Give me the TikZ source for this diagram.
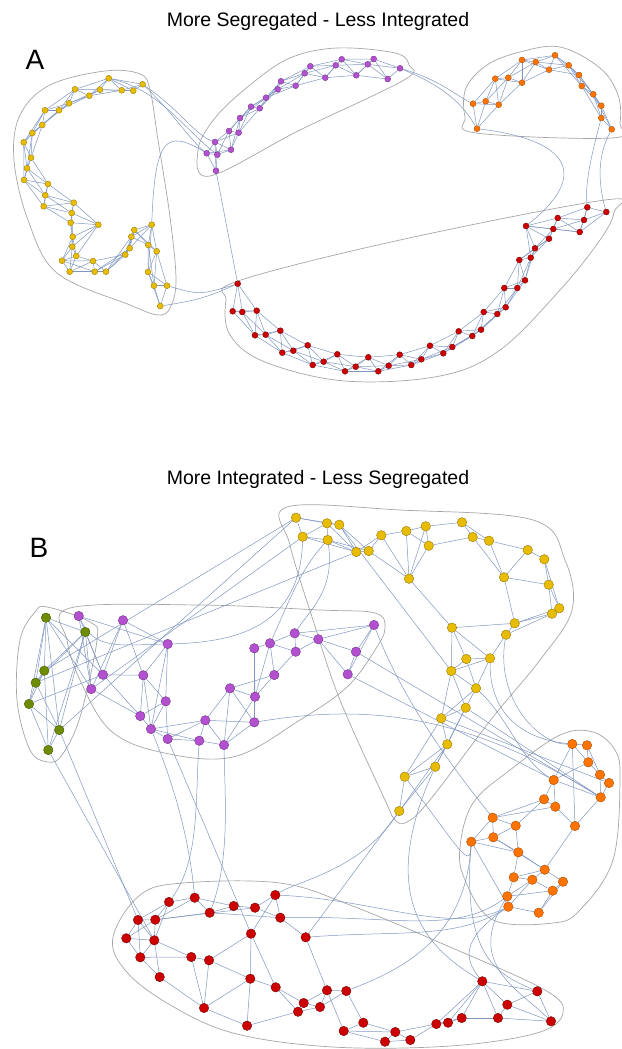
\documentclass[tikz,border=0pt]{standalone}
\usepackage{fontspec}
\setmainfont{Liberation Sans}
\usetikzlibrary{backgrounds}
\definecolor{ylw}{HTML}{E8BC00}
\definecolor{ylwd}{HTML}{8C7200}
\definecolor{prp}{HTML}{B350D0}
\definecolor{prpd}{HTML}{6A2C80}
\definecolor{orn}{HTML}{FF7300}
\definecolor{ornd}{HTML}{A04600}
\definecolor{rd}{HTML}{CC0000}
\definecolor{rdd}{HTML}{6E0000}
\definecolor{grn}{HTML}{6D8C00}
\definecolor{grnd}{HTML}{3C4E00}
\definecolor{edgec}{HTML}{8096C0}
\definecolor{hullc}{HTML}{A6A6A6}
\tikzstyle{nodeA} = [circle, inner sep=0pt, minimum size=6pt, line width=0.3pt]
\tikzstyle{nodeB} = [circle, inner sep=0pt, minimum size=9.5pt, line width=0.35pt]
\tikzstyle{yel} = [fill=ylw, draw=ylwd]
\tikzstyle{pur} = [fill=prp, draw=prpd]
\tikzstyle{ora} = [fill=orn, draw=ornd]
\tikzstyle{red} = [fill=rd, draw=rdd]
\tikzstyle{gre} = [fill=grn, draw=grnd]
\tikzstyle{edge} = [draw=edgec, line width=0.5pt]
\tikzstyle{hull} = [draw=hullc, line width=0.7pt]
\tikzstyle{title} = [font=\fontsize{19.5}{23}\selectfont]
\tikzstyle{panel} = [font=\fontsize{28}{32}\selectfont]
% links of a chain of nodes: each to the next three
\newcommand{\chainlinks}[2]{%
  \pgfmathtruncatemacro\nA{#2-1}
  \pgfmathtruncatemacro\nB{#2-2}
  \pgfmathtruncatemacro\nC{#2-3}
  \foreach \i in {1,...,\nA}{\pgfmathtruncatemacro\j{\i+1}\draw[edge] (#1\i) -- (#1\j);}
  \foreach \i in {1,...,\nB}{\pgfmathtruncatemacro\j{\i+2}\draw[edge] (#1\i) -- (#1\j);}
  \foreach \i in {1,...,\nC}{\pgfmathtruncatemacro\j{\i+3}\draw[edge] (#1\i) -- (#1\j);}
}

\begin{document}
\begin{tikzpicture}[x=1pt,y=-1pt]
\useasboundingbox (0,0) rectangle (621,1049);

\node (titleA) [title] at (318,21) {More Segregated - Less Integrated};
\node (labelA) [panel] at (35,60) {A};
\node (titleB) [title] at (318,479) {More Integrated - Less Segregated};
\node (labelB) [panel] at (39,548) {B};

% panel A
\foreach \x/\y [count=\i] in {142.7/84.3, 133.3/90.7, 121.7/90.3, 108.7/78.3, 100/89.7, 89.3/95.7, 75/89.3, 69/103.3, 59/110.3, 45/110.3, 42.3/125, 32.3/133, 23.7/142.3, 31/157.7, 27/168.3, 24/180, 48/184, 45.3/195.3, 43.7/206.3, 73.7/202.7, 71.7/213, 70.7/222.7, 98.3/224.7, 72.7/236.7, 72.3/246.7, 76.3/256, 62/260.7, 69.7/271.7, 93/261, 94.7/271.7, 106/271.7, 125.3/254.7, 129.7/248.3, 131.3/236.7, 134.3/230, 151.7/224.7, 148.3/245, 156.7/251.3, 148/272, 154/285.7, 167/285.7, 160.3/306}
  \node (ya\i) [nodeA, yel] at (\x,\y) {};
\foreach \x/\y [count=\i] in {216/170.7, 206.7/153.3, 217.3/154.7, 215/142, 231/149.7, 229/131, 238.7/132.7, 240/118, 251/106.7, 259.7/108.3, 266/97.7, 277.7/89.3, 281/81.3, 295.7/85.7, 304.7/73.3, 310.3/66.3, 325.3/77.7, 335.7/65.3, 341.7/59.3, 356.3/75.3, 367.7/64.3, 373.7/59, 387.7/79, 400/68.3}
  \node (pa\i) [nodeA, pur] at (\x,\y) {};
\foreach \x/\y [count=\i] in {477/128.7, 473/103.7, 485.7/101.3, 498.7/104.7, 495.3/78.7, 508.3/77.7, 522/82.7, 522/60, 535.7/62, 549/69.7, 555/55.3, 568.7/65.3, 579/75, 581.7/86, 593.3/94.3, 601.3/105.7, 601.3/118, 611.7/129.3}
  \node (oa\i) [nodeA, ora] at (\x,\y) {};
\foreach \x/\y [count=\i] in {606.3/212, 587.3/207.3, 584/220, 579.7/232, 557.7/218, 553.3/229, 526/226, 549/238.7, 535/248.3, 530.7/257.7, 519.3/260, 525/280.3, 517.3/288, 504.3/288, 505.7/307.3, 497.3/314, 483.7/312, 481/329.7, 472.3/336, 458.7/331.3, 452.3/347, 443.3/353.3, 430/345.7, 421.3/359.3, 411.3/365, 399.7/354.7, 388.7/365.7, 378.3/371.3, 368.3/357.3, 355.7/366.7, 345/371.3, 337.3/354.3, 323.7/361.7, 312.7/365, 307.7/345.3, 293.3/350.7, 282.3/352.7, 280.3/330.7, 265.7/334.7, 255/335.3, 256.7/310.7, 242.3/312, 232.7/311.3, 237.7/283.7}
  \node (ra\i) [nodeA, red] at (\x,\y) {};

% panel B
\foreach \x/\y [count=\i] in {46/617.7, 85.3/632, 44.3/670.7, 35.7/682.7, 29/704, 59.3/730, 48.3/750}
  \node (gb\i) [nodeB, gre] at (\x,\y) {};
\foreach \x/\y [count=\i] in {78.7/616, 123/620.3, 167.7/644, 103/674.7, 91.3/689, 143.3/675.3, 165.7/701.3, 140.3/716, 151/729, 167.7/739, 199.3/740.7, 205.3/720.3, 224/745, 230/688.3, 254.3/648.3, 270/643.3, 294.7/633.3, 295.7/651.7, 318.3/639.3, 274.3/675, 255/696.7, 254.3/722.3, 374/625, 356/651.7, 347.7/674.3}
  \node (pb\i) [nodeB, pur] at (\x,\y) {};
\foreach \x/\y [count=\i] in {296/517.7, 302.7/536.7, 327/523.3, 339.3/524.7, 327.7/540, 356.3/552, 368.7/551, 381.3/535.3, 406.3/531, 425.7/526.3, 428.7/545.7, 462/522.3, 472.7/537, 489/540.7, 409/578.7, 527.7/550, 544.3/559.3, 504/577.3, 548.7/584.7, 559.3/608.3, 552/613.7, 514.7/623.3, 506/634.7, 452/627.7, 466.3/659, 490/658.3, 451.3/671, 476/688.3, 465.7/707.7, 441.3/718.3, 447.3/744.3, 435.3/766.7, 404.7/776.7, 399.3/811}
  \node (yb\i) [nodeB, yel] at (\x,\y) {};
\foreach \x/\y [count=\i] in {572.3/744, 587/745.3, 588.3/762.3, 600/774.7, 609/783, 553.7/780, 600.7/797.3, 544/799.3, 555.3/806.7, 575/826, 492.7/817.7, 515.7/825.7, 471.3/841.7, 493.3/837.3, 518.3/852.3, 544.7/869.7, 513.7/877.3, 532.3/879.7, 563/881.7, 552.7/890.7, 507.3/896.3, 508.3/906.7, 538.7/912.7}
  \node (ob\i) [nodeB, ora] at (\x,\y) {};
\foreach \x/\y [count=\i] in {169/902, 194.7/897.7, 275.3/895, 138/920, 155.3/919.7, 209.7/912.7, 233.7/906, 255/907.7, 280.3/917.7, 126.3/938.3, 154.3/940.3, 251/933.7, 305.7/937.3, 140.3/957.3, 191.3/957, 209/960.3, 159.7/977, 250.3/978.7, 275.7/987.3, 327/990.3, 346.3/991, 303.7/1003, 320/1007, 298/1011.7, 204/1008, 247/1025.7, 363.3/1022.7, 343.7/1031, 395.3/1032, 385/1041.7, 410.3/1040, 436.3/1024, 448/1022.7, 461.7/1018, 498/1018, 482.3/981.3, 507.3/1004.7, 537.3/991.3, 551/1021.3}
  \node (rb\i) [nodeB, red] at (\x,\y) {};

\begin{scope}[on background layer]
% hulls
\draw[hull] plot[smooth cycle, tension=0.6] coordinates {(105,71) (140,74) (150,90) (158,140) (170,217) (176,280) (170,308) (158,315) (130,305) (57,273) (28,220) (14,160) (20,115) (50,85)};
\draw[hull] plot[smooth cycle, tension=0.6] coordinates {(198,150) (210,176) (300,130) (404,80) (409,65) (395,53) (337,48) (290,58) (250,85) (215,118)};
\draw[hull] plot[smooth cycle, tension=0.6] coordinates {(465,117) (476,133) (612,138) (620,123) (618,95) (600,68) (560,47) (520,52) (487,65) (466,88)};
\draw[hull] plot[smooth cycle, tension=0.6] coordinates {(226,300) (238,281) (400,240) (605,200) (614,212) (600,240) (560,290) (500,350) (440,376) (345,381) (265,362) (230,335)};
\draw[hull] plot[smooth cycle, tension=0.6] coordinates {(47,607) (90,622) (97,640) (80,717) (62,755) (48,762) (30,750) (17,700) (20,640) (35,612)};
\draw[hull] plot[smooth cycle, tension=0.6] coordinates {(70,608) (200,605) (320,610) (375,613) (385,628) (375,650) (347,687) (300,720) (233,757) (160,752) (110,730) (80,680) (67,640)};
\draw[hull] plot[smooth cycle, tension=0.6] coordinates {(287,507) (400,510) (533,520) (565,560) (572,610) (540,660) (493,717) (430,800) (407,822) (395,820) (385,800) (340,700) (313,620) (290,545)};
\draw[hull] plot[smooth cycle, tension=0.6] coordinates {(593,732) (615,750) (620,780) (613,860) (580,910) (553,923) (493,920) (465,880) (460,847) (473,803) (510,770) (560,735)};
\draw[hull] plot[smooth cycle, tension=0.6] coordinates {(183,883) (280,883) (350,905) (450,947) (545,990) (563,1013) (537,1033) (450,1046) (333,1047) (233,1033) (167,1003) (125,970) (113,937) (140,895)};

% links inside the modules of A
\chainlinks{ya}{42}
\chainlinks{pa}{24}
\chainlinks{oa}{18}
\chainlinks{ra}{44}

% links between the modules of A
\draw[edge] (ya1) .. controls (175,115) and (190,140) .. (pa2);
\draw[edge] (ya1) .. controls (180,110) and (195,135) .. (pa4);
\draw[edge] (ya4) .. controls (160,90) and (185,130) .. (pa3);
\draw[edge] (ya36) .. controls (155,140) and (165,128) .. (pa2);
\draw[edge] (ya42) .. controls (200,300) and (210,296) .. (ra44);
\draw[edge] (ya41) .. controls (200,295) .. (ra44);
\draw[edge] (pa1) -- (ra44);
\draw[edge] (pa24) .. controls (440,80) and (455,95) .. (oa2);
\draw[edge] (pa24) .. controls (440,85) and (460,100) .. (oa1);
\draw[edge] (oa1) .. controls (570,140) and (590,175) .. (ra7);
\draw[edge] (oa17) .. controls (590,160) and (585,185) .. (ra2);
\draw[edge] (oa18) .. controls (595,160) and (600,190) .. (ra1);

% links inside the modules of B
\foreach \a/\b in {1/2, 1/3, 1/4, 1/6, 1/5, 2/3, 2/4, 2/6, 2/7, 3/4, 3/5, 3/7, 4/5, 4/6, 5/6, 5/7, 6/7}
  \draw[edge] (gb\a) -- (gb\b);
\foreach \a/\b in {1/4, 1/5, 1/3, 2/4, 2/5, 2/6, 2/3, 4/6, 4/8, 5/8, 3/6, 3/7, 3/9, 6/7, 6/8, 6/9, 7/8, 7/9, 7/10, 8/9, 9/10, 9/12, 9/11, 10/11, 10/12, 11/12, 11/13, 12/13, 12/14, 13/14, 13/21, 13/22, 14/21, 14/22, 14/20, 15/16, 15/21, 15/22, 16/17, 16/18, 16/20, 16/21, 17/18, 17/19, 18/19, 18/20, 19/24, 19/25, 17/23, 19/23, 23/24, 23/25, 24/25, 12/22, 21/22, 20/21}
  \draw[edge] (pb\a) -- (pb\b);
\foreach \a/\b in {1/2, 1/3, 1/4, 2/3, 2/5, 2/6, 3/4, 3/5, 3/6, 4/6, 4/7, 5/6, 5/7, 6/7, 6/8, 7/8, 7/15, 8/9, 8/15, 9/10, 9/11, 9/15, 10/11, 10/12, 10/15, 11/13, 11/15, 12/13, 12/14, 13/14, 13/18, 14/16, 14/18, 16/17, 16/18, 17/19, 17/20, 18/19, 18/22, 19/20, 19/21, 20/21, 20/22, 21/22, 21/23, 22/23, 22/24, 23/26, 15/24, 24/25, 24/26, 24/27, 25/26, 25/27, 25/28, 26/28, 26/27, 27/28, 27/29, 27/30, 28/29, 28/30, 29/30, 29/31, 29/32, 30/31, 30/33, 31/32, 31/33, 32/33, 32/34, 33/34, 31/34, 4/27}
  \draw[edge] (yb\a) -- (yb\b);
\foreach \a/\b in {1/2, 1/3, 1/6, 1/10, 2/3, 2/4, 3/4, 3/6, 4/5, 4/7, 5/7, 6/8, 6/9, 6/7, 7/10, 8/9, 8/11, 8/12, 9/10, 9/11, 10/16, 11/13, 11/14, 11/12, 12/14, 12/15, 13/14, 13/15, 13/22, 14/15, 14/16, 15/16, 15/17, 16/17, 16/18, 16/19, 17/18, 17/21, 18/20, 18/21, 18/22, 19/20, 20/23, 21/22, 21/20, 22/23, 19/23}
  \draw[edge] (ob\a) -- (ob\b);
\foreach \a/\b in {1/2, 1/4, 1/5, 1/11, 2/6, 2/7, 2/5, 3/8, 3/9, 3/12, 4/5, 4/10, 4/14, 4/11, 5/11, 5/6, 5/10, 5/8, 6/7, 6/9, 7/8, 8/9, 9/13, 10/11, 10/14, 11/14, 11/15, 11/17, 12/16, 12/18, 12/19, 14/15, 14/17, 15/16, 15/25, 16/18, 16/25, 17/25, 18/19, 18/25, 18/26, 19/22, 19/24, 13/20, 20/21, 20/22, 20/23, 21/23, 21/27, 22/23, 22/24, 23/24, 24/26, 25/26, 20/28, 27/28, 27/29, 28/29, 28/30, 29/30, 29/31, 30/31, 31/32, 29/32, 32/33, 33/34, 32/34, 34/35, 34/36, 33/36, 32/36, 35/36, 36/37, 36/38, 37/38, 37/39, 38/39, 35/37, 35/39}
  \draw[edge] (rb\a) -- (rb\b);

% links between the modules of B
\draw[edge] (gb3) -- (yb1);
\draw[edge] (gb6) -- (yb1);
\draw[edge] (gb4) -- (yb6);
\draw[edge] (pb5) -- (yb2);
\draw[edge] (gb5) -- (pb4);
\draw[edge] (gb1) -- (pb5);
\draw[edge] (gb2) -- (pb5);
\draw[edge] (gb2) -- (pb4);
\draw[edge] (gb1) -- (pb4);
\draw[edge] (gb7) -- (rb11);
\draw[edge] (gb6) -- (rb4);
\draw[edge] (pb1) .. controls (95,650) and (120,645) .. (pb3);
\draw[edge] (pb3) .. controls (240,642) and (300,625) .. (yb2);
\draw[edge] (pb16) .. controls (290,600) and (300,570) .. (yb5);
\draw[edge] (yb5) .. controls (335,590) and (310,610) .. (pb17);
\draw[edge] (pb9) .. controls (180,800) and (190,850) .. (rb2);
\draw[edge] (pb11) .. controls (195,800) and (200,860) .. (rb1);
\draw[edge] (pb10) -- (rb12);
\draw[edge] (pb13) .. controls (225,800) and (230,860) .. (rb6);
\draw[edge] (pb24) -- (ob7);
\draw[edge] (pb25) -- (ob6);
\draw[edge] (pb23) .. controls (395,680) and (430,740) .. (ob11);
\draw[edge] (pb22) .. controls (360,705) and (460,710) .. (ob7);
\draw[edge] (yb26) .. controls (490,720) and (530,740) .. (ob1);
\draw[edge] (yb23) .. controls (495,700) and (540,745) .. (ob1);
\draw[edge] (yb28) .. controls (510,720) and (520,760) .. (ob6);
\draw[edge] (yb29) -- (ob7);
\draw[edge] (yb30) -- (ob5);
\draw[edge] (yb34) -- (rb13);
\draw[edge] (yb34) .. controls (360,870) and (300,880) .. (rb3);
\draw[edge] (yb32) .. controls (375,900) and (430,950) .. (rb36);
\draw[edge] (yb33) .. controls (460,850) and (470,870) .. (ob13);
\draw[edge] (rb3) .. controls (380,900) and (450,935) .. (ob22);
\draw[edge] (rb9) .. controls (390,915) and (455,935) .. (ob21);
\draw[edge] (rb13) .. controls (400,930) and (455,940) .. (ob22);
\draw[edge] (ob22) .. controls (460,940) and (465,960) .. (rb36);
\draw[edge] (ob13) .. controls (462,960) and (500,975) .. (rb38);
\draw[edge] (ob21) .. controls (465,965) and (520,990) .. (rb39);
\draw[edge] (ob13) .. controls (465,940) and (400,970) .. (rb21);
\end{scope}
\end{tikzpicture}
\end{document}
